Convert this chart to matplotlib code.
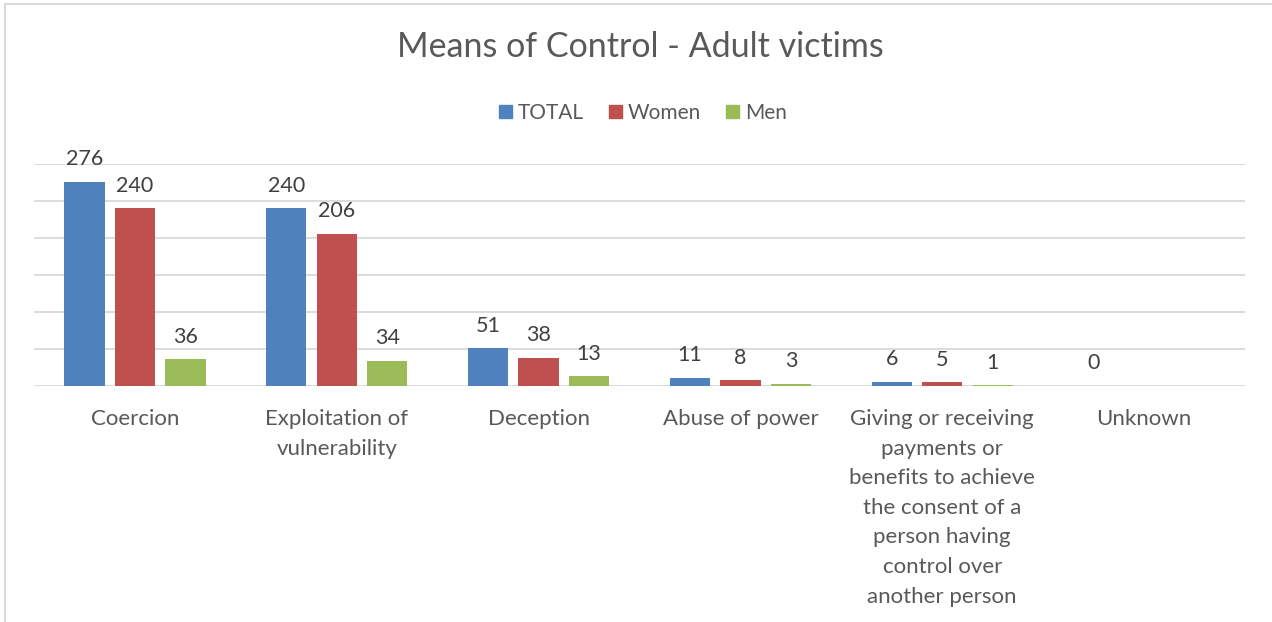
import numpy as np
import matplotlib.pyplot as plt
from matplotlib.patches import Rectangle, Patch

categories = ["Coercion", "Exploitation of\nvulnerability", "Deception", "Abuse of power",
              "Giving or receiving\npayments or\nbenefits to achieve\nthe consent of a\nperson having\ncontrol over\nanother person",
              "Unknown"]
total = [276, 240, 51, 11, 6, 0]
women = [240, 206, 38, 8, 5, None]
men = [36, 34, 13, 3, 1, None]

series = [("TOTAL", total, "#4f81bd"), ("Women", women, "#c0504d"), ("Men", men, "#9bbb59")]

plt.rcParams['font.family'] = ['Lato', 'DejaVu Sans']
text_col = "#595959"

fig = plt.figure(figsize=(12.72, 6.22), dpi=100)
ax = fig.add_axes([34 / 1272, 1 - 386 / 622, (1245 - 34) / 1272, (386 - 164) / 622])

x = np.arange(len(categories))
width = 0.2
for i, (name, vals, col) in enumerate(series):
    off = (i - 1) * 0.25
    for xi, v in zip(x, vals):
        if v is None:
            continue
        ax.bar(xi + off, v, width, color=col, zorder=3)
        ax.text(xi + off, v + 17, str(v), ha="center", va="bottom",
                fontsize=15.5, color="#404040")

ax.set_xlim(-0.5, len(categories) - 0.5)
ax.set_ylim(0, 300)
ax.set_yticks(range(0, 301, 50))
ax.yaxis.grid(True, color="#d9d9d9", linewidth=1.3, zorder=0)
ax.tick_params(axis="y", left=False, labelleft=False)
ax.tick_params(axis="x", bottom=False, pad=13)
ax.set_xticks(x)
ax.set_xticklabels(categories, fontsize=16, color=text_col, va="top", linespacing=1.6)
for s in ax.spines.values():
    s.set_visible(False)

fig.text(640 / 1272, 1 - 47 / 622, "Means of Control - Adult victims",
         ha="center", va="center", fontsize=24.5, color=text_col)
handles = [Patch(color=col, label=name) for name, _, col in series]
fig.legend(handles=handles, loc="center", bbox_to_anchor=(643 / 1272, 1 - 113 / 622), ncol=3,
           frameon=False, fontsize=15, handlelength=0.6, handleheight=0.6,
           handletextpad=0.3, columnspacing=1.2, labelcolor=text_col)

fig.patches.append(Rectangle((5 / 1272, -0.1), 1.2, 1 - 4 / 622 + 0.1, transform=fig.transFigure,
                             fill=False, edgecolor="#d9d9d9", linewidth=1.5))

fig.savefig("out.png", dpi=100)
